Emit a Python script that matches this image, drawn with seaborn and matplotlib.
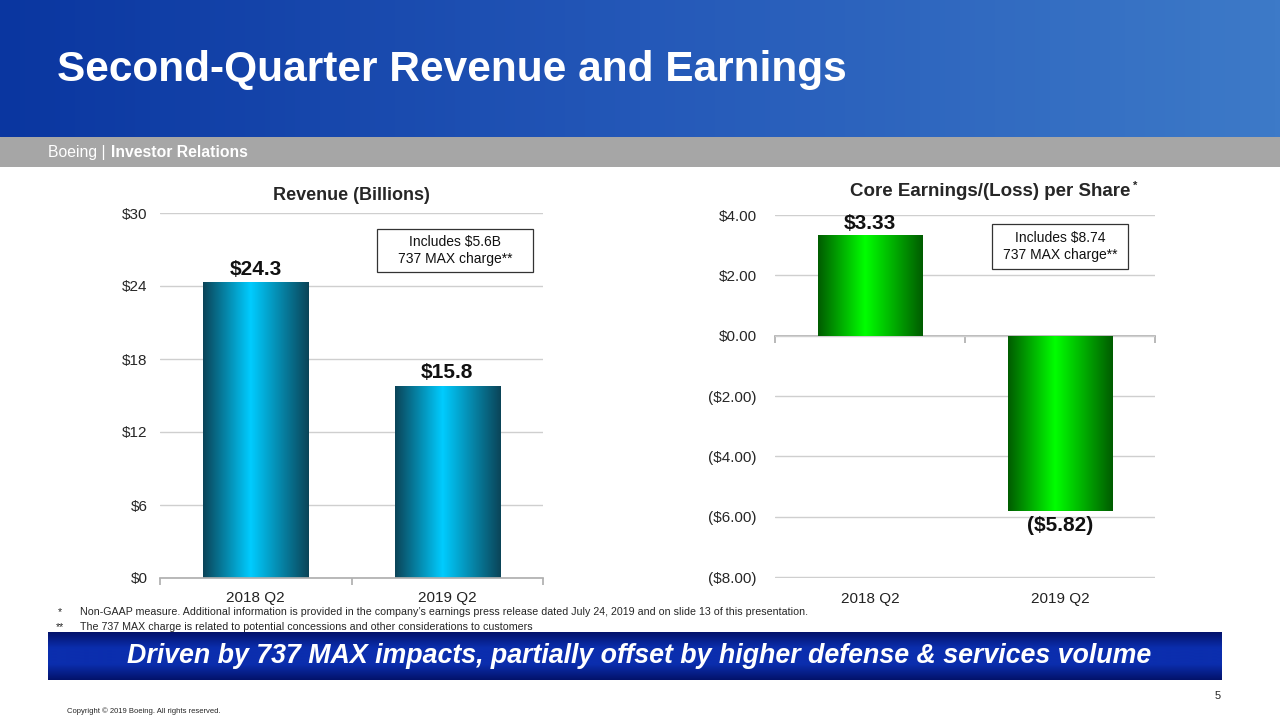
import numpy as np
import pandas as pd
import matplotlib
matplotlib.use("Agg")
import matplotlib.pyplot as plt
import seaborn as sns
from matplotlib.colors import LinearSegmentedColormap

# ---------------- data ----------------
quarters = ["2018 Q2", "2019 Q2"]
revenue = [24.3, 15.8]
revenue_labels = ["$24.3", "$15.8"]
eps = [3.33, -5.82]
eps_labels = ["$3.33", "($5.82)"]
rev_ticks = [0, 6, 12, 18, 24, 30]
rev_ticklabels = ["$0", "$6", "$12", "$18", "$24", "$30"]
eps_ticks = [-8, -6, -4, -2, 0, 2, 4]
eps_ticklabels = ["($8.00)", "($6.00)", "($4.00)", "($2.00)", "$0.00", "$2.00", "$4.00"]

sns.set_theme(style="white")
plt.rcParams['font.family'] = ['Liberation Sans', 'DejaVu Sans']

fig = plt.figure(figsize=(12.8, 7.2), dpi=100)

def fx(px):
    return px / 1280

def fy(py):
    return 1 - py / 720

# --------------- header -----------------
hdr = fig.add_axes([0, fy(137), 1, 137/720])
hdr.set_axis_off()
hcm = LinearSegmentedColormap.from_list("hdr", ["#0a36a0", "#2458b8", "#3d7ac8"])
hdr.imshow(np.linspace(0, 1, 256)[None, :], aspect="auto", cmap=hcm, extent=[0, 1, 0, 1])
hdr.set_xlim(0, 1); hdr.set_ylim(0, 1)
fig.text(fx(57), fy(70), "Second-Quarter Revenue and Earnings", color="white",
         fontsize=30.5, fontweight="bold", va="center", ha="left")

gray = fig.add_axes([0, fy(167), 1, 30/720])
gray.set_axis_off()
gray.add_patch(plt.Rectangle((0, 0), 1, 1, color="#a6a6a6", transform=gray.transAxes))
fig.text(fx(48), fy(157), "Boeing |", color="white", fontsize=11.3, va="baseline", ha="left")
fig.text(fx(111), fy(157), "Investor Relations", color="white", fontsize=11.3,
         fontweight="bold", va="baseline", ha="left")

# gradient helper
def gradient_bars(ax, colors, center=0.45):
    cm = LinearSegmentedColormap.from_list("g", [(0, colors[0]), (center, colors[1]), (1, colors[0])])
    for p in list(ax.patches):
        x0, y0 = p.get_x(), p.get_y()
        w, h = p.get_width(), p.get_height()
        ymin, ymax = min(y0, y0 + h), max(y0, y0 + h)
        im = ax.imshow(np.linspace(0, 1, 256)[None, :], aspect="auto", cmap=cm,
                       extent=[x0, x0 + w, ymin, ymax], zorder=2)
        im.set_clip_path(p)
        p.set_alpha(0)

def note_box(x0, y0, x1, y1, text):
    fig.patches.append(plt.Rectangle((fx(x0), fy(y1)), fx(x1) - fx(x0), fy(y0) - fy(y1),
                                     transform=fig.transFigure, fc="white", ec="#333333", lw=0.9))
    fig.text(fx((x0 + x1) / 2), fy((y0 + y1) / 2), text, ha="center", va="center",
             fontsize=10, linespacing=1.25, color="#111111")

# --------------- revenue chart -----------------
ax1 = fig.add_axes([fx(160), fy(578), 383/1280, 365/720])
df1 = pd.DataFrame({"q": quarters, "v": revenue})
sns.barplot(data=df1, x="q", y="v", ax=ax1, color="#00c8f8", width=0.55, edgecolor="none")
ax1.set_xlim(-0.5, 1.5)
ax1.set_ylim(0, 30)
gradient_bars(ax1, ["#0b4458", "#00ccff"])
ax1.set_yticks(rev_ticks)
ax1.set_yticklabels(rev_ticklabels, fontsize=11)
ax1.yaxis.grid(True, color="#cfcfcf", lw=1)
ax1.set_axisbelow(True)
for s in ["top", "right", "left"]:
    ax1.spines[s].set_visible(False)
ax1.spines["bottom"].set_color("#b0b0b0")
ax1.set_xticks([-0.5, 0.5, 1.5])
ax1.set_xticklabels([])
ax1.tick_params(axis="x", length=5, color="#b0b0b0", direction="out", bottom=True)
ax1.tick_params(axis="y", length=0, pad=9)
for i, q in enumerate(quarters):
    ax1.text(i, -1.1, q, ha="center", va="top", fontsize=11, color="#222222")
ax1.set_xlabel(""); ax1.set_ylabel("")
for i, (v, lab) in enumerate(zip(revenue, revenue_labels)):
    ax1.text(i, v + 0.3, lab, ha="center", va="bottom", fontsize=15, fontweight="bold", color="#111111")
ax1.set_title("Revenue (Billions)", fontsize=13, fontweight="bold", pad=9)
note_box(377, 229, 533, 272, "Includes $5.6B\n737 MAX charge**")

# --------------- EPS chart -----------------
ax2 = fig.add_axes([fx(775), fy(578), 380/1280, 363/720])
df2 = pd.DataFrame({"q": quarters, "v": eps})
sns.barplot(data=df2, x="q", y="v", ax=ax2, color="#00e000", width=0.55, edgecolor="none")
ax2.set_xlim(-0.5, 1.5)
ax2.set_ylim(-8.03, 4)
gradient_bars(ax2, ["#005c00", "#00ff00"])
ax2.set_yticks(eps_ticks)
ax2.set_yticklabels(eps_ticklabels, fontsize=11)
ax2.yaxis.grid(True, color="#cfcfcf", lw=1)
ax2.set_axisbelow(True)
for s in ["top", "right", "left"]:
    ax2.spines[s].set_visible(False)
ax2.spines["bottom"].set_position(("data", 0))
ax2.spines["bottom"].set_color("#b0b0b0")
ax2.spines["bottom"].set_zorder(0.5)
ax2.set_xticks([-0.5, 0.5, 1.5])
ax2.set_xticklabels([])
ax2.tick_params(axis="x", length=5, color="#b0b0b0", direction="out", bottom=True)
ax2.tick_params(axis="y", length=0, pad=13)
for i, q in enumerate(quarters):
    ax2.text(i, -8.5, q, ha="center", va="top", fontsize=11, color="#222222")
ax2.set_xlabel(""); ax2.set_ylabel("")
for i, (v, lab) in enumerate(zip(eps, eps_labels)):
    if v >= 0:
        ax2.text(i, v + 0.07, lab, ha="center", va="bottom", fontsize=15, fontweight="bold", color="#111111")
    else:
        ax2.text(i, v - 0.17, lab, ha="center", va="top", fontsize=15, fontweight="bold", color="#111111")
fig.text(fx(990), fy(192), "Core Earnings/(Loss) per Share", fontsize=13.5, fontweight="bold",
         ha="center", va="center")
fig.text(fx(1135), fy(186), "*", fontsize=8, fontweight="bold", ha="center", va="center")
note_box(992, 224, 1128, 269, "Includes $8.74\n737 MAX charge**")

# --------------- footnotes -----------------
fig.text(fx(58), fy(612), "*", fontsize=7.7, va="center")
fig.text(fx(80), fy(612),
         "Non-GAAP measure. Additional information is provided in the company\u2019s earnings press release dated July 24, 2019 and on slide 13 of this presentation.",
         fontsize=7.7, va="center")
fig.text(fx(56), fy(627), "**", fontsize=7.7, va="center")
fig.text(fx(80), fy(627),
         "The 737 MAX charge is related to potential concessions and other considerations to customers",
         fontsize=7.7, va="center")

# --------------- bottom banner -----------------
ban = fig.add_axes([fx(48), fy(680), 1174/1280, 48/720])
ban.set_axis_off()
ban.imshow(np.linspace(0, 1, 256)[:, None], aspect="auto", cmap=LinearSegmentedColormap.from_list(
    "bv", ["#03126a", "#0b2eae", "#0b2eae", "#03126a"]), extent=[0, 1, 0, 1])
ban.set_xlim(0, 1); ban.set_ylim(0, 1)
fig.text(fx(639), fy(656), "Driven by 737 MAX impacts, partially offset by higher defense & services volume",
         color="white", fontsize=19.3, fontweight="bold", fontstyle="italic", ha="center", va="center")

fig.text(fx(1218), fy(696), "5", fontsize=8, ha="center", va="center")
fig.text(fx(67), fy(711), "Copyright \u00a9 2019 Boeing. All rights reserved.", fontsize=5.5,
         ha="left", va="center")

fig.savefig("out.png", dpi=100)
